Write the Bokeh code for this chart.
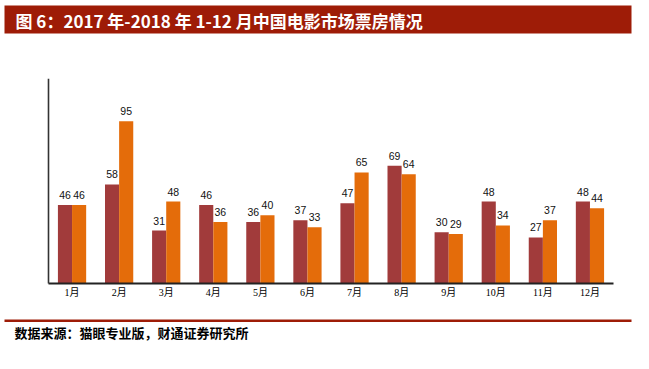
from bokeh.plotting import figure
from bokeh.models import ColumnDataSource, Range1d, FixedTicker
from bokeh.layouts import column
from bokeh.transform import dodge
from bokeh.core.properties import value
from bokeh.embed import file_html
from bokeh.resources import INLINE

# ---- data (亿元) ----
months = ["1月", "2月", "3月", "4月", "5月", "6月", "7月", "8月", "9月", "10月", "11月", "12月"]
box_2017 = [46, 58, 31, 46, 36, 37, 47, 69, 30, 48, 27, 48]
box_2018 = [46, 95, 48, 36, 40, 33, 65, 64, 29, 34, 37, 44]

title_text = "图 6：2017 年-2018 年 1-12 月中国电影市场票房情况"
source_text = "数据来源：猫眼专业版，财通证券研究所"

RED_BAR = "#A13B3B"
ORANGE_BAR = "#E46C0A"
BANNER = "#9E1C07"
W = 649


def blank_fig(h):
    f = figure(width=W, height=h, x_range=Range1d(0, W), y_range=Range1d(h, 0),
               output_backend="svg", toolbar_location=None,
               x_axis_location=None, y_axis_location=None, min_border=0)
    f.title.visible = False
    f.outline_line_color = None
    f.xgrid.grid_line_color = None
    f.ygrid.grid_line_color = None
    return f


# ---- header banner ----
head = blank_fig(40)
head.quad(left=[4], right=[631], top=[5], bottom=[33], fill_color=BANNER, line_color=None)
head.text(x=[15], y=[19.5], text=[title_text], text_color="white",
          text_font=value("Noto Sans CJK SC"), text_font_style="bold",
          text_font_size="17px", text_baseline="middle", text_align="left")

# ---- chart ----
idx = list(range(1, len(months) + 1))
src = ColumnDataSource(dict(
    idx=idx,
    v2017=box_2017,
    v2018=box_2018,
    l2017=[str(v) for v in box_2017],
    l2018=[str(v) for v in box_2018],
))

# plot area spans the full width; category slots occupy screen x 48..613
slot = 565 / 12.0
x_lo = 0.5 - 48 / slot
x_hi = 12.5 + (W - 613) / slot
px_per_unit = 205 / 120.0

p = figure(
    width=W, height=265,
    x_range=Range1d(x_lo, x_hi),
    y_range=Range1d(-2 / px_per_unit, 120),
    output_backend="svg",
    toolbar_location=None,
    y_axis_location=None,
    min_border_left=0, min_border_right=0,
    min_border_top=38, min_border_bottom=20,
)
p.title.visible = False
p.outline_line_color = None
p.xgrid.grid_line_color = None
p.ygrid.grid_line_color = None

p.vbar(x=dodge("idx", -0.15), top="v2017", width=0.3,
       source=src, fill_color=RED_BAR, line_color=None)
p.vbar(x=dodge("idx", 0.15), top="v2018", width=0.3,
       source=src, fill_color=ORANGE_BAR, line_color=None)

for col, lab, off in (("v2017", "l2017", -0.15), ("v2018", "l2018", 0.15)):
    p.text(x=dodge("idx", off), y=col, text=lab, source=src,
           text_align="center", text_baseline="bottom", y_offset=-6,
           text_font=value("Liberation Sans"), text_font_size="10.5px",
           text_color="#111111")

# axis lines
p.segment(x0=[0.5], y0=[0], x1=[12.5], y1=[0], line_color="#222222", line_width=2)
p.segment(x0=[0.5], y0=[0], x1=[0.5], y1=[120], line_color="#333333", line_width=1.6)

# month labels on the x axis
p.xaxis.ticker = FixedTicker(ticks=idx)
p.xaxis.major_label_overrides = {i: m for i, m in zip(idx, months)}
p.xaxis.axis_line_color = None
p.xaxis.major_tick_line_color = None
p.xaxis.minor_tick_line_color = None
p.xaxis.major_tick_out = 0
p.xaxis.major_tick_in = 0
p.xaxis.major_label_standoff = 1
p.xaxis.major_label_text_font = "Liberation Serif, Noto Sans CJK SC"
p.xaxis.major_label_text_font_size = "10px"
p.xaxis.major_label_text_color = "#000000"

# ---- footer ----
foot = blank_fig(64)
foot.quad(left=[4], right=[631], top=[14], bottom=[16.5], fill_color=BANNER, line_color=None)
foot.text(x=[14], y=[26.5], text=[source_text], text_color="#000000",
          text_font=value("Noto Sans CJK SC"), text_font_style="bold",
          text_font_size="13px", text_baseline="middle", text_align="left")

layout = column(head, p, foot, spacing=0)
open("out.html", "w").write(file_html(layout, INLINE))
